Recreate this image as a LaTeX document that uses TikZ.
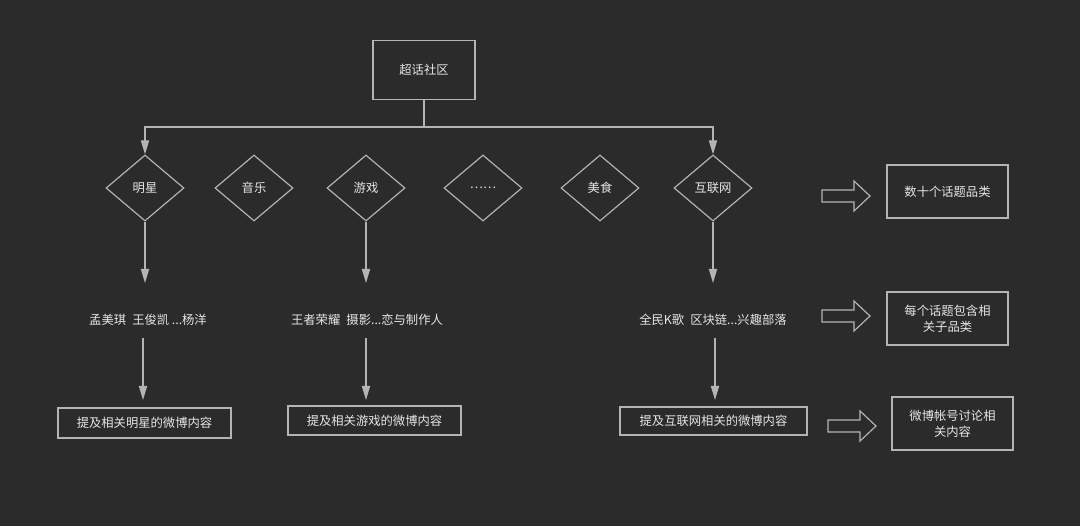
\documentclass[tikz,border=0pt]{standalone}
\usepackage{fontspec}
\setmainfont{Noto Sans CJK SC}
\usetikzlibrary{shapes.geometric,arrows.meta}
\definecolor{bg}{HTML}{2B2B2B}
\definecolor{ln}{HTML}{B4B4B4}
\definecolor{tx}{HTML}{E6E6E6}
\begin{document}
\begin{tikzpicture}[x=0.03cm,y=-0.03cm,
  every node/.style={text=tx,font=\fontsize{10.5}{13.5}\selectfont,inner sep=0pt},
  box/.style={draw=ln,line width=1pt,align=center},
  arr/.style={draw=ln,line width=1pt,-{Triangle[length=12pt,width=7pt]}},
  hol/.style={draw=ln,line width=1pt}]
\fill[bg] (0,0) rectangle (1080,526);
\useasboundingbox (0,0) rectangle (1080,526);
\node[box,minimum width=102*0.3mm,minimum height=59*0.3mm] (top) at (424,70) {超话社区};
\foreach \n/\x/\t in {d1/145/明星,d2/254/音乐,d3/366/游戏,d4/483/……,d5/600/美食,d6/713/互联网}
  \node[draw=ln,line width=1pt,diamond,aspect=1.18,minimum width=78*0.3mm,minimum height=66*0.3mm] (\n) at (\x,188) {\t};
\coordinate (j) at (424,127);
\draw[draw=ln,line width=1pt] (top.south) -- (j);
\draw[arr] (j) -| (d1.north);
\draw[arr] (j) -| (d6.north);
\node (t1) at (148,320) {孟美琪\enspace 王俊凯 ...杨洋};
\node (t2) at (367,320) {王者荣耀\enspace 摄影...恋与制作人};
\node (t3) at (713,320) {全民K歌\enspace 区块链...兴趣部落};
\draw[arr] (d1.south) -- (145,283);
\draw[arr] (d3.south) -- (366,283);
\draw[arr] (d6.south) -- (713,283);
\node[box,minimum width=173*0.3mm,minimum height=30*0.3mm] (b1) at (144.5,423) {提及相关明星的微博内容};
\node[box,minimum width=173*0.3mm,minimum height=29*0.3mm] (b2) at (374.5,420.5) {提及相关游戏的微博内容};
\node[box,minimum width=187*0.3mm,minimum height=28*0.3mm] (b3) at (713.5,421) {提及互联网相关的微博内容};
\coordinate (a1) at (143,338); \coordinate (a2) at (366,338); \coordinate (a3) at (715,338);
\draw[arr] (a1) -- (143,400);
\draw[arr] (a2) -- (366,400);
\draw[arr] (a3) -- (715,400);
\node[box,minimum width=121*0.3mm,minimum height=53*0.3mm] (r1) at (947.5,191.5) {数十个话题品类};
\node[box,minimum width=121*0.3mm,minimum height=53*0.3mm] (r2) at (947.5,318.5) {每个话题包含相\\关子品类};
\node[box,minimum width=121*0.3mm,minimum height=53*0.3mm] (r3) at (952.5,423.5) {微博帐号讨论相\\关内容};
\foreach \x/\y in {822/196,822/316,828/426}
  \draw[hol] (\x,\y-6) -- (\x+32,\y-6) -- (\x+32,\y-15) -- (\x+48,\y) -- (\x+32,\y+15) -- (\x+32,\y+6) -- (\x,\y+6) -- cycle;
\end{tikzpicture}
\end{document}
